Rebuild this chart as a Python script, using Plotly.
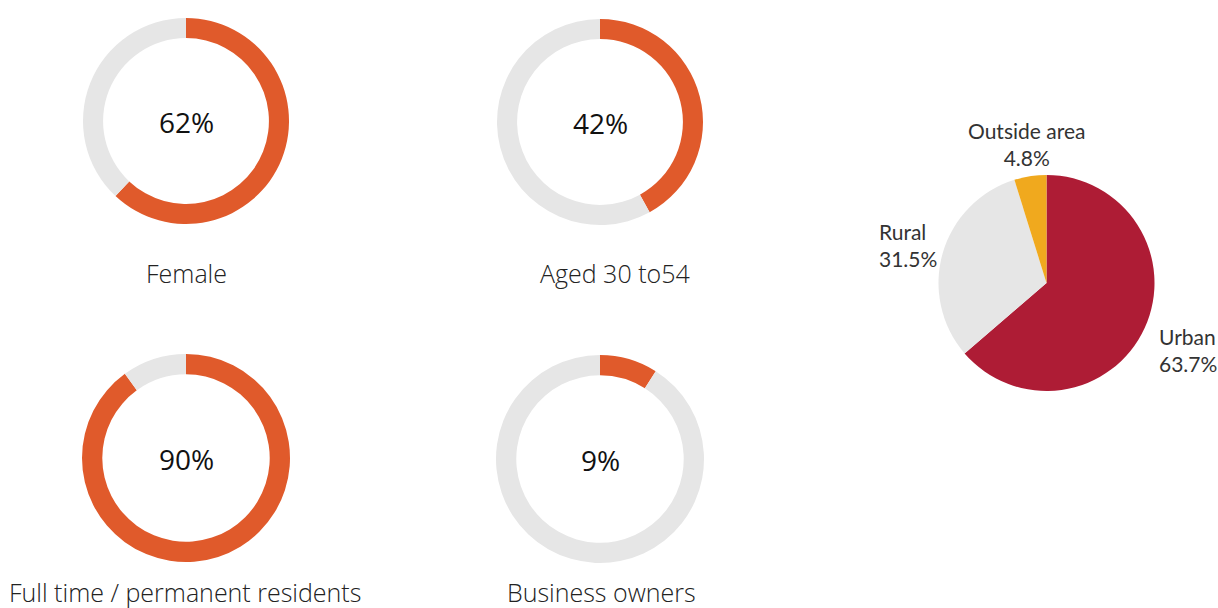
import plotly.graph_objects as go

W, H = 1218, 608

# Data
donut_labels = ["Female", "Aged 30 to54", "Full time / permanent residents", "Business owners"]
donut_values = [62, 42, 90, 9]
pie_labels = ["Urban", "Rural", "Outside area"]
pie_values = [63.7, 31.5, 4.8]

ORANGE = "#E05A2B"
GREY = "#E6E6E6"
pie_colors = ["#AE1C35", "#E6E6E6", "#F0A91E"]

# layout (pixel centers, radius)
donut_pos = [(186, 121, 103), (600, 122, 103), (186, 458, 104), (600, 459, 104)]
label_pos = [(186, 273), (615, 273), (185, 592), (601, 592)]
pie_pos = (1046.5, 283, 108)


def px(x):
    return x / W


def py(y):
    return 1 - y / H


def dom(cx, cy, r):
    return dict(x=[px(cx - r), px(cx + r)], y=[py(cy + r), py(cy - r)])


fig = go.Figure()
annotations = []
for i, (lab, v) in enumerate(zip(donut_labels, donut_values)):
    cx, cy, r = donut_pos[i]
    fig.add_trace(go.Pie(
        values=[v, 100 - v], labels=["yes", "no"],
        hole=0.805, sort=False, direction="clockwise", rotation=0,
        marker=dict(colors=[ORANGE, GREY], line=dict(width=0)),
        textinfo="none", hoverinfo="skip", showlegend=False,
        domain=dom(cx, cy, r)))
    annotations.append(dict(x=px(cx), y=py(cy + 1), xref="paper", yref="paper",
                            xanchor="center", yanchor="middle",
                            text=f"{v}%", showarrow=False,
                            font=dict(family="Open Sans", size=28, color="#111111")))
    lx, ly = label_pos[i]
    annotations.append(dict(x=px(lx), y=py(ly), xref="paper", yref="paper",
                            xanchor="center", yanchor="middle",
                            text=lab, showarrow=False,
                            font=dict(family="Open Sans", size=25, color="#222222", weight=300)))

cx, cy, r = pie_pos
fig.add_trace(go.Pie(
    values=pie_values, labels=pie_labels, sort=False, direction="clockwise", rotation=0,
    marker=dict(colors=pie_colors, line=dict(width=0)),
    textinfo="none", hoverinfo="skip", showlegend=False,
    domain=dom(cx, cy, r)))

pie_text_pos = [(1157, 350, "left"), (877, 244.5, "left"), (1026, 143.5, "center")]
for (lab, v), (tx, ty, al) in zip(zip(pie_labels, pie_values), pie_text_pos):
    annotations.append(dict(x=px(tx), y=py(ty), xref="paper", yref="paper",
                            text=f"{lab}<br>{v}%", showarrow=False,
                            xanchor=al, yanchor="middle", align=al,
                            font=dict(family="Lato", size=21, color="#333333")))

fig.update_layout(width=W, height=H, margin=dict(l=0, r=0, t=0, b=0),
                  paper_bgcolor="white", plot_bgcolor="white",
                  annotations=annotations)
fig.write_html("out.html", config={"displayModeBar": False},
               post_script="document.body.style.margin='0';document.body.style.overflow='hidden';")
